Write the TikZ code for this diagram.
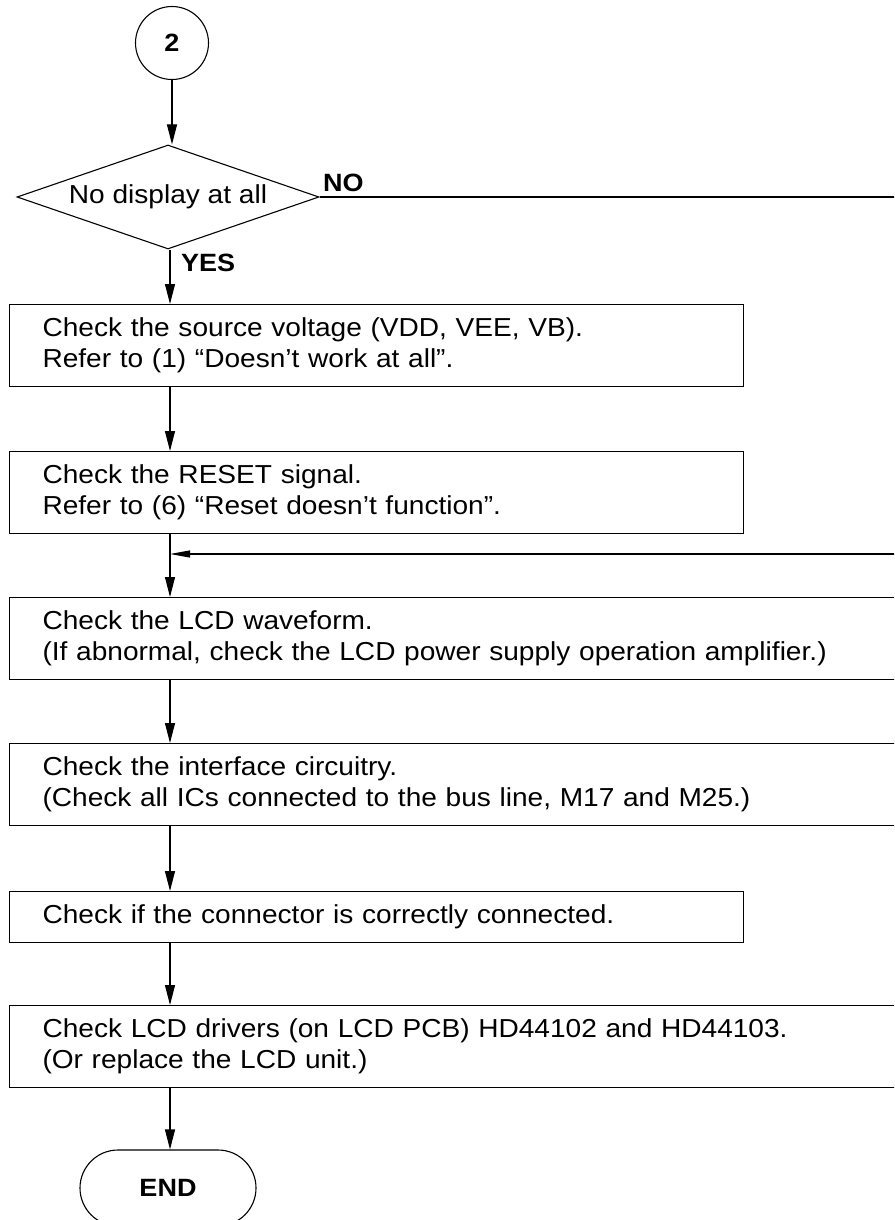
\documentclass[tikz,border=0pt]{standalone}
\usepackage{fontspec}
\setmainfont{Liberation Sans}[FakeStretch=1.08]
\usetikzlibrary{arrows.meta,shapes.geometric}
\begin{document}
\begin{tikzpicture}[x=1pt,y=-1pt,
  txt/.style={font=\fontsize{26}{31}\selectfont},
  lbl/.style={font=\fontsize{25}{31}\selectfont\bfseries,inner sep=0pt},
  ln/.style={line width=1.1pt},
  arr/.style={line width=1.1pt,-{Triangle[length=20pt,width=10pt]}},
  arrl/.style={line width=1.1pt,-{Triangle[length=20pt,width=7pt]}},
  box/.style={txt,draw,line width=1.1pt,anchor=north west,inner xsep=33pt,inner ysep=0pt,align=left,minimum height=82pt},
  shortbox/.style={box,text width=668pt},
  longbox/.style={box,text width=834pt}]
\useasboundingbox (0,0) rectangle (894,1220);
\clip (0,0) rectangle (894,1220);

\node[txt,draw,circle,line width=1.1pt,minimum size=73pt,inner sep=0pt,font=\fontsize{25}{31}\selectfont\bfseries] (start) at (172,43) {2};

\node[txt,draw,diamond,line width=1.1pt,minimum width=302pt,minimum height=104pt,inner sep=0pt,aspect=2.9] (dec) at (168,197) {No display at all};

\node[shortbox] (b1) at (9,304) {Check the source voltage (VDD, VEE, VB).\\Refer to (1) ``Doesn't work at all''.};
\node[shortbox] (b2) at (9,451) {Check the RESET signal.\\Refer to (6) ``Reset doesn't function''.};
\node[longbox] (b3) at (9,597) {Check the LCD waveform.\\(If abnormal, check the LCD power supply operation amplifier.)};
\node[longbox] (b4) at (9,743) {Check the interface circuitry.\\(Check all ICs connected to the bus line, M17 and M25.)};
\node[shortbox,minimum height=51pt] (b5) at (9,891) {Check if the connector is correctly connected.};
\node[longbox] (b6) at (9,1005) {Check LCD drivers (on LCD PCB) HD44102 and HD44103.\\(Or replace the LCD unit.)};

\node[draw,line width=1.1pt,rounded corners=38pt,minimum width=176pt,minimum height=76pt,inner sep=0pt,font=\fontsize{25}{31}\selectfont\bfseries] (end) at (168,1188) {END};

\coordinate (axis) at (170,0);
\coordinate (noout) at (900,197);
\coordinate (noin) at (900,554);
\coordinate (join) at (170,554);

\node[lbl,anchor=base west] (no) at (323,191) {NO};
\node[lbl,anchor=base west] (yes) at (181,271) {YES};

\draw[arr] (start.south) -- (dec.north -| start.south);
\draw[arr] (dec.south -| axis) -- (b1.north -| axis);
\draw[arr] (b1.south -| axis) -- (b2.north -| axis);
\draw[arr] (b2.south -| axis) -- (b3.north -| axis);
\draw[arr] (b3.south -| axis) -- (b4.north -| axis);
\draw[arr] (b4.south -| axis) -- (b5.north -| axis);
\draw[arr] (b5.south -| axis) -- (b6.north -| axis);
\draw[arr] (b6.south -| axis) -- (end.north -| axis);
\draw[ln] (dec.east) -- (noout);
\draw[arrl] (noin) -- (join);
\end{tikzpicture}
\end{document}
